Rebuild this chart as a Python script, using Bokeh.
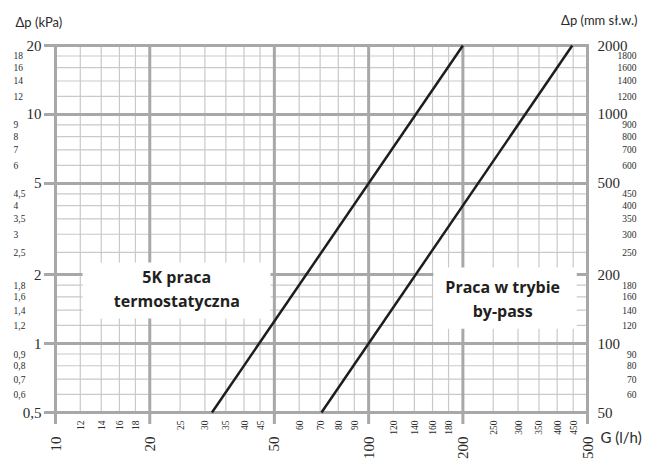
import math
from bokeh.plotting import figure
from bokeh.models import (Range1d, LogScale, Label, LabelSet, ColumnDataSource, BoxAnnotation)
from bokeh.embed import file_html
from bokeh.resources import INLINE

# ---------------- data ----------------
# flow G (l/h) vs pressure drop (kPa)
G_THERMO = [31.6, 200]
DP_THERMO = [0.5, 20]
G_BYPASS = [70.7, 447]
DP_BYPASS = [0.5, 20]

X_MAJOR = [10, 20, 50, 100, 200, 500]
X_MAJOR_LABELS = ["10", "20", "50", "100", "200", "500"]
X_MINOR = [12, 14, 16, 18, 25, 30, 35, 40, 45, 60, 70, 80, 90,
           120, 140, 160, 180, 250, 300, 350, 400, 450]
X_MINOR_LABELS = [str(v) for v in X_MINOR]

Y_MAJOR = [0.5, 1, 2, 5, 10, 20]
Y_MAJOR_LABELS = ["0,5", "1", "2", "5", "10", "20"]
Y_MINOR = [0.6, 0.7, 0.8, 0.9, 1.2, 1.4, 1.6, 1.8, 2.5, 3, 3.5, 4, 4.5,
           6, 7, 8, 9, 12, 14, 16, 18]
Y_MINOR_LABELS = ["0,6", "0,7", "0,8", "0,9", "1,2", "1,4", "1,6", "1,8", "2,5", "3",
                  "3,5", "4", "4,5", "6", "7", "8", "9", "12", "14", "16", "18"]

MM_MAJOR = [50, 100, 200, 500, 1000, 2000]
MM_MAJOR_LABELS = [str(v) for v in MM_MAJOR]
MM_MINOR = [60, 70, 80, 90, 120, 140, 160, 180, 250, 300, 350, 400, 450,
            600, 700, 800, 900, 1200, 1400, 1600, 1800]
MM_MINOR_LABELS = [str(v) for v in MM_MINOR]

# ---------------- layout (pixels) ----------------
W, H = 646, 459
L, R, T, B = 55, 587, 45, 412          # chart frame inside the canvas
TICK = 10                               # outward major tick length

X_LO, X_HI = X_MAJOR[0], X_MAJOR[-1]
Y_LO, Y_HI = Y_MAJOR[0], Y_MAJOR[-1]
kx = (math.log10(X_HI) - math.log10(X_LO)) / (R - L)
ky = (math.log10(Y_HI) - math.log10(Y_LO)) / (B - T)
x_start = 10 ** (math.log10(X_LO) - L * kx)
x_end = 10 ** (math.log10(X_HI) + (W - R) * kx)
y_start = 10 ** (math.log10(Y_LO) - (H - B) * ky)
y_end = 10 ** (math.log10(Y_HI) + T * ky)
x_tick = 10 ** (math.log10(X_LO) - TICK * kx)
y_tick = 10 ** (math.log10(Y_LO) - TICK * ky)

FONT = "Lato"
MAJOR_GRID = "#a8a8a8"
MINOR_GRID = "#c9c9c9"
TXT = "#2b2b2b"

p = figure(width=W, height=H, x_axis_type="log", y_axis_type="log",
           x_range=Range1d(x_start, x_end), y_range=Range1d(y_start, y_end),
           x_axis_location=None, y_axis_location=None, min_border=0,
           output_backend="svg", toolbar_location=None)
p.grid.visible = False
p.outline_line_color = None
p.background_fill_color = "white"
p.extra_y_ranges = {"mm": Range1d(y_start * 100, y_end * 100)}
p.extra_y_scales = {"mm": LogScale()}

# minor grid
p.segment(x0=X_MINOR, y0=[Y_LO] * len(X_MINOR), x1=X_MINOR, y1=[Y_HI] * len(X_MINOR),
          line_color=MINOR_GRID, line_width=1.2)
p.segment(x0=[X_LO] * len(Y_MINOR), y0=Y_MINOR, x1=[X_HI] * len(Y_MINOR), y1=Y_MINOR,
          line_color=MINOR_GRID, line_width=1.2)
# major grid (with outward ticks on the left and bottom)
p.segment(x0=X_MAJOR, y0=[y_tick] * len(X_MAJOR), x1=X_MAJOR, y1=[Y_HI] * len(X_MAJOR),
          line_color=MAJOR_GRID, line_width=3, line_cap="square")
p.segment(x0=[x_tick] * len(Y_MAJOR), y0=Y_MAJOR, x1=[X_HI] * len(Y_MAJOR), y1=Y_MAJOR,
          line_color=MAJOR_GRID, line_width=3, line_cap="square")

# curves
p.line(G_THERMO, DP_THERMO, line_color="#1d1d1b", line_width=2.5)
p.line(G_BYPASS, DP_BYPASS, line_color="#1d1d1b", line_width=2.5)


def labels(xs, ys, texts, size, **kw):
    src = ColumnDataSource(dict(x=xs, y=ys, t=texts))
    p.add_layout(LabelSet(x="x", y="y", text="t", source=src, text_font=FONT,
                          text_font_size=size, text_color=TXT, **kw))


# left axis (kPa)
labels([X_LO] * len(Y_MAJOR), Y_MAJOR, Y_MAJOR_LABELS, "15px", x_offset=-14,
       text_align="right", text_baseline="middle")
labels([X_LO] * len(Y_MINOR), Y_MINOR, Y_MINOR_LABELS, "9.5px", x_offset=-42,
       text_align="left", text_baseline="middle")
# right axis (mm water column)
labels([X_HI] * len(MM_MAJOR), MM_MAJOR, MM_MAJOR_LABELS, "15px", x_offset=10,
       text_align="left", text_baseline="middle", y_range_name="mm")
labels([X_HI] * len(MM_MINOR), MM_MINOR, MM_MINOR_LABELS, "9.5px", x_offset=49,
       text_align="right", text_baseline="middle", y_range_name="mm")
# bottom axis (G, l/h), rotated
labels(X_MAJOR, [Y_LO] * len(X_MAJOR), X_MAJOR_LABELS, "15px", y_offset=-24,
       angle=math.pi / 2, text_align="right", text_baseline="middle")
labels(X_MINOR, [Y_LO] * len(X_MINOR), X_MINOR_LABELS, "9.5px", y_offset=-8,
       angle=math.pi / 2, text_align="right", text_baseline="middle")

# axis titles
p.add_layout(Label(x=X_LO, y=Y_HI, x_offset=-40, y_offset=24, text="Δp (kPa)",
                   text_align="left", text_baseline="middle", text_font=FONT,
                   text_font_size="13px", text_color=TXT))
p.add_layout(Label(x=X_HI, y=Y_HI, x_offset=50, y_offset=26, text="Δp (mm sł.w.)",
                   text_align="right", text_baseline="middle", text_font=FONT,
                   text_font_size="13px", text_color=TXT))
p.add_layout(Label(x=X_HI, y=Y_LO, x_offset=13, y_offset=-24, text="G (l/h)",
                   text_align="left", text_baseline="middle", text_font=FONT,
                   text_font_size="15px", text_color=TXT))

# white boxes with the two operating modes
p.add_layout(BoxAnnotation(left=12.2, right=48.6, bottom=1.285, top=2.26,
                           fill_color="white", fill_alpha=1, line_color=None))
p.add_layout(BoxAnnotation(left=161, right=462, bottom=1.16, top=2.15,
                           fill_color="white", fill_alpha=1, line_color=None))
p.add_layout(Label(x=24.4, y=1.73, text="5K praca\ntermostatyczna", text_align="center",
                   text_baseline="middle", text_font="Open Sans", text_font_style="bold",
                   text_font_size="16px", text_color="#231f20", text_line_height=1.1))
p.add_layout(Label(x=268, y=1.57, text="Praca w trybie\nby-pass", text_align="center",
                   text_baseline="middle", text_font="Open Sans", text_font_style="bold",
                   text_font_size="16px", text_color="#231f20", text_line_height=1.1))

open("out.html", "w").write(file_html(p, INLINE))
